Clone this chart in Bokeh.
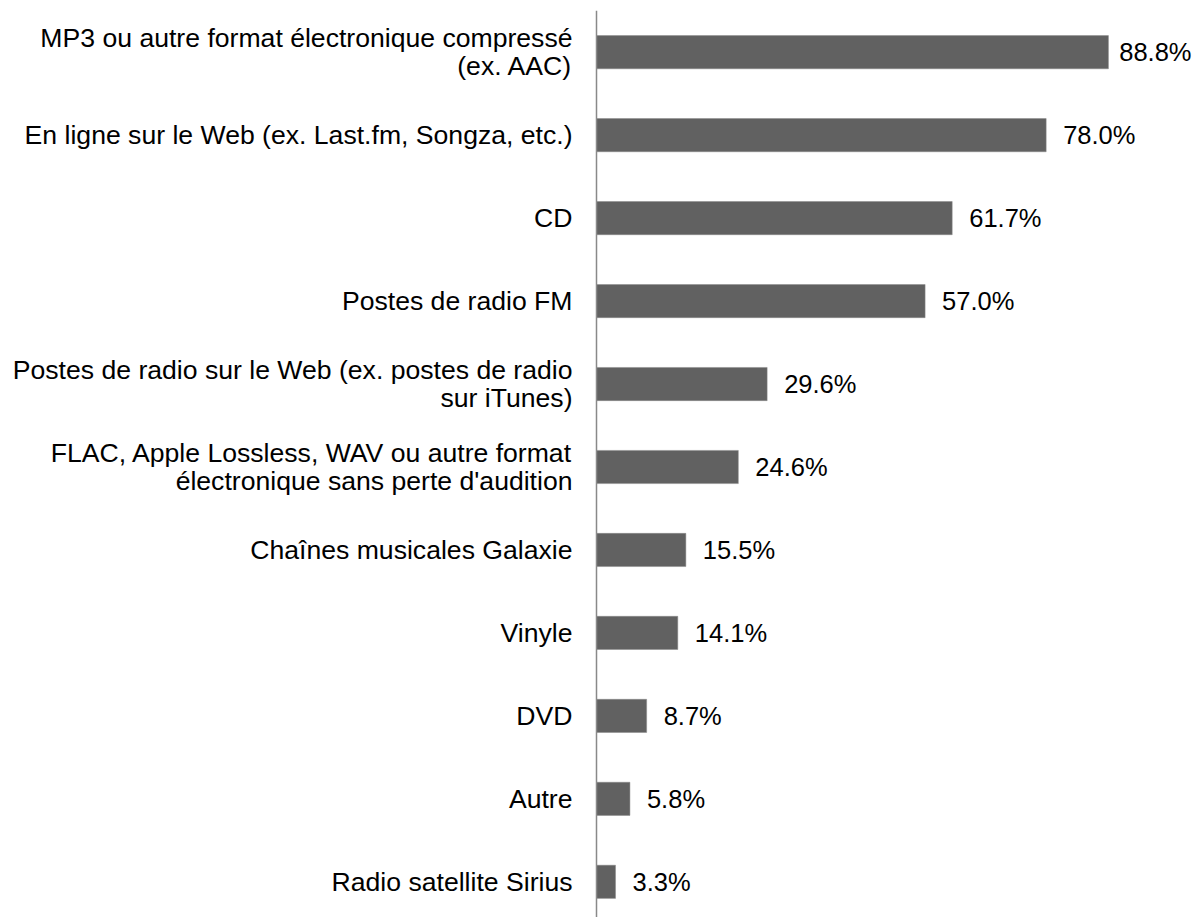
from bokeh.plotting import figure
from bokeh.models import Range1d, ColumnDataSource
from bokeh.embed import file_html
from bokeh.resources import INLINE
from bokeh.core.properties import value

categories = [
    "MP3 ou autre format électronique compressé\n(ex. AAC)",
    "En ligne sur le Web (ex. Last.fm, Songza, etc.)",
    "CD",
    "Postes de radio FM",
    "Postes de radio sur le Web (ex. postes de radio\nsur iTunes)",
    "FLAC, Apple Lossless, WAV ou autre format\nélectronique sans perte d'audition",
    "Chaînes musicales Galaxie",
    "Vinyle",
    "DVD",
    "Autre",
    "Radio satellite Sirius",
]
values = [88.8, 78.0, 61.7, 57.0, 29.6, 24.6, 15.5, 14.1, 8.7, 5.8, 3.3]
value_labels = [f"{v:.1f}%" for v in values]

W, H = 1195, 917
px_per_pct = 5.765
axis_px = 596
row_px = 82.96
first_center_px = 51.7
val_font_px = 25.5

x_start = -axis_px / px_per_pct
x_end = (W - axis_px) / px_per_pct
y_top = -first_center_px / row_px
y_bottom = (H - first_center_px) / row_px

# keep value labels inside the chart area (like Excel does)
def _est_width(s, fs):
    w = {".": 0.278, "%": 0.889}
    return sum(w.get(c, 0.556) for c in s) * fs

offsets = []
for v, lab in zip(values, value_labels):
    end_px = axis_px + v * px_per_pct
    room = W - 4 - end_px - _est_width(lab, val_font_px)
    offsets.append(min(17, room))

pos = list(range(len(categories)))
src = ColumnDataSource(dict(y=pos, v=values, cat=categories, lab=value_labels,
                            zero=[0] * len(values), off=offsets))

p = figure(width=W, height=H, output_backend="svg", toolbar_location=None,
           x_range=Range1d(x_start, x_end), y_range=Range1d(y_bottom, y_top),
           min_border=0, outline_line_color=None, background_fill_color="white",
           border_fill_color="white")
p.axis.visible = False
p.grid.visible = False

p.hbar(y="y", left="zero", right="v", height=0.4, source=src,
       fill_color="#616161", line_color="#8a8a8a", line_width=0.5)

n = len(categories)
p.segment(x0=[0], y0=[-0.5], x1=[0], y1=[n - 0.5], line_color="#898989", line_width=1.5)

p.text(x="zero", y="y", text="cat", source=src, x_offset=-24,
       text_align="right", text_baseline="middle", text_line_height=0.94,
       text_font=value("Liberation Sans"), text_font_size="26.6px", text_color="#000000")

p.text(x="v", y="y", text="lab", source=src, x_offset="off",
       text_align="left", text_baseline="middle",
       text_font=value("Liberation Sans"), text_font_size=f"{val_font_px}px", text_color="#000000")

open("out.html", "w").write(file_html(p, INLINE))
